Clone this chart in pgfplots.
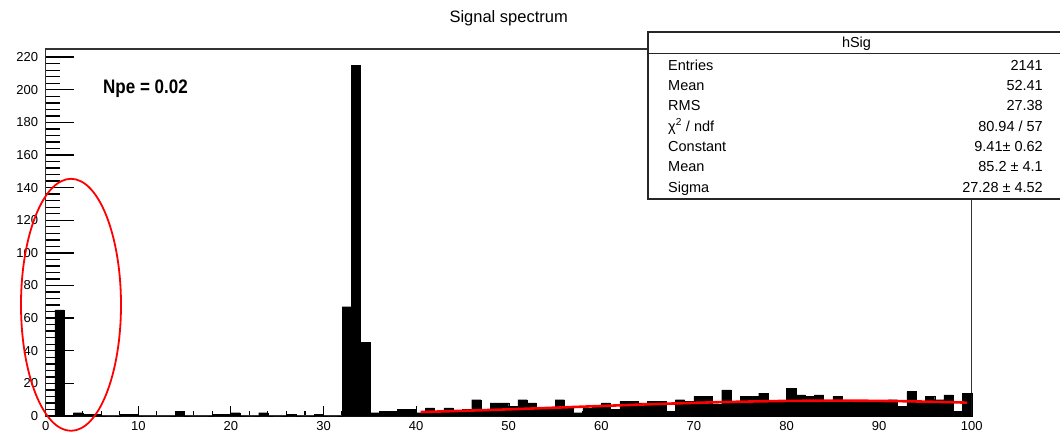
\documentclass[border=0pt]{standalone}
\usepackage{fontspec}
\setmainfont{Liberation Sans}
\usepackage{pgfplots}
\pgfplotsset{compat=1.18}
\usepackage{pgfplotstable}

\pgfplotstableread{
x y
0 0
1 65
2 0
3 2
4 1
5 1
6 0
7 0
8 1
9 1
10 0
11 0
12 0
13 0
14 3
15 0
16 0
17 0
18 1
19 1
20 2
21 0
22 0
23 2
24 0
25 0
26 1
27 0
28 0
29 1
30 0
31 0
32 67
33 215
34 45
35 2
36 3
37 3
38 4
39 4
40 2
41 5
42 3
43 5
44 3
45 4
46 10
47 3
48 8
49 8
50 6
51 10
52 8
53 4
54 4
55 10
56 5
57 2
58 5
59 6
60 8
61 4
62 9
63 9
64 8
65 9
66 9
67 3
68 10
69 9
70 12
71 12
72 7
73 16
74 8
75 12
76 12
77 14
78 9
79 9
80 17
81 13
82 12
83 13
84 9
85 12
86 9
87 9
88 9
89 9
90 9
91 10
92 6
93 15
94 8
95 12
96 10
97 13
98 3
99 14
100 14
}\hist

\pgfplotstableread{
x y
40.5 2.46
42.5 2.76
45 3.18
47.5 3.62
50 4.09
52.5 4.59
55 5.10
57.5 5.62
60 6.14
62.5 6.66
65 7.15
67.5 7.62
70 8.06
72.5 8.44
75 8.77
77.5 9.04
80 9.24
82.5 9.36
85.2 9.41
87.5 9.38
90 9.27
92.5 9.08
95 8.82
97.5 8.50
99.5 8.20
}\fit

\begin{document}
\begin{tikzpicture}[x=1pt,y=1pt]
\useasboundingbox (0,0) rectangle (1060,432);
% main axis with x ticks
\begin{axis}[
  at={(45.7pt,16pt)}, anchor=south west,
  scale only axis, width=926pt, height=367pt,
  xmin=0, xmax=100, ymin=0, ymax=225,
  axis line style={line width=1.3pt, black!80},
  tick align=inside,
  xtick={0,10,...,100}, minor x tick num=4,
  ytick=\empty,
  xtick pos=bottom,
  major tick length=10pt, minor tick length=5pt,
  tick style={black, line width=1.1pt},
  /pgf/number format/assume math mode=true,
  xticklabel style={font=\fontsize{13}{15}\selectfont, inner sep=0pt, anchor=north, yshift=-5.5pt},
  clip=false,
]
\addplot[const plot, fill=black, draw=black, line width=0.3pt] table {\hist} \closedcycle;
\addplot[red, line width=2.6pt] table {\fit};
\end{axis}
% y ticks axis
\begin{axis}[
  at={(45.7pt,16pt)}, anchor=south west,
  scale only axis, width=926pt, height=367pt,
  xmin=0, xmax=100, ymin=0, ymax=225,
  axis line style={draw=none},
  tick align=inside,
  xtick=\empty,
  ytick={0,20,...,220}, minor y tick num=4,
  ytick pos=left,
  major tick length=28pt, minor tick length=14pt,
  tick style={black, line width=1.4pt},
  /pgf/number format/assume math mode=true,
  yticklabel style={font=\fontsize{13}{15}\selectfont, inner sep=0pt, anchor=east, xshift=-7.5pt},
]
\end{axis}
% title
\node[anchor=base, font=\fontsize{16.5}{18}\selectfont, inner sep=0] at (508.7,409.5) {Signal spectrum};
% Npe label
\node[anchor=base west, font=\bfseries\fontsize{17}{20}\selectfont, inner sep=0] at (103,338.7) {\scalebox{1}[1.15]{Npe = 0.02}};
% red ellipse
\draw[red, line width=1.8pt] (71,127.2) ellipse [x radius=50, y radius=126];
% stats box
\draw[line width=1.3pt, black!85, fill=white] (648,233) rectangle (1066,400);
\draw[line width=1.3pt, black!85] (648,378.7) -- (1066,378.7);
\node[anchor=base, font=\fontsize{14.5}{16}\selectfont, inner sep=0] at (856.5,384) {hSig};
\begin{scope}[every node/.style={font=\fontsize{14.5}{16}\selectfont, inner sep=0}]
\node[anchor=base west] at (668,361.7) {Entries};
\node[anchor=base west] at (668,341.4) {Mean};
\node[anchor=base west] at (668,321.1) {RMS};
\node[anchor=base west] at (668,300.8) {χ\textsuperscript{2} / ndf};
\node[anchor=base west] at (668,280.5) {Constant};
\node[anchor=base west] at (668,260.2) {Mean};
\node[anchor=base west] at (668,239.9) {Sigma};
\node[anchor=base east] at (1043,361.7) {2141};
\node[anchor=base east] at (1043,341.4) {52.41};
\node[anchor=base east] at (1043,321.1) {27.38};
\node[anchor=base east] at (1043,300.8) {80.94 / 57};
\node[anchor=base east] at (1043,280.5) {9.41± 0.62};
\node[anchor=base east] at (1043,260.2) {85.2 ± 4.1};
\node[anchor=base east] at (1043,239.9) {27.28 ± 4.52};
\end{scope}
\end{tikzpicture}
\end{document}
